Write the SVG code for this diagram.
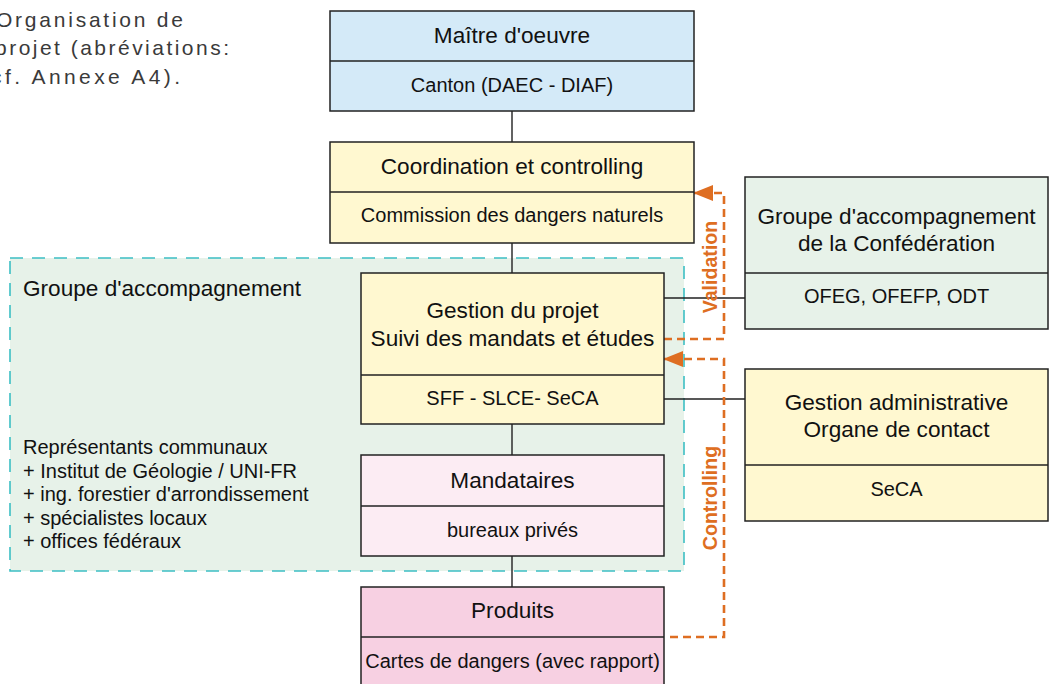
<svg xmlns="http://www.w3.org/2000/svg" width="1051" height="684" viewBox="0 0 1051 684">
<style>
.box{stroke:#222;stroke-width:1.5}
.t{font-family:"Liberation Sans",Arial,sans-serif;font-size:22.6px;fill:#111;text-anchor:middle}
.s{font-family:"Liberation Sans",Arial,sans-serif;font-size:20px;fill:#111;text-anchor:middle}
.l{font-family:"Liberation Sans",Arial,sans-serif;font-size:20px;fill:#111}
.cap{font-family:"Liberation Sans",Arial,sans-serif;font-size:21px;fill:#3a3a3a}
.conn{stroke:#222;stroke-width:1.4;fill:none}
.or{stroke:#DE6E22;stroke-width:2.6;fill:none;stroke-dasharray:8 5}
.ol{font-family:"Liberation Sans",Arial,sans-serif;font-size:19.6px;font-weight:bold;fill:#DE6E22;text-anchor:middle}
.blue{fill:#D4EAF8}.yel{fill:#FFF8D0}.grn{fill:#E7F2E9}.pk1{fill:#FCECF3}.pk2{fill:#F7D0E2}
</style>
<defs>
<marker id="ah" viewBox="0 0 20 16" refX="19" refY="8" markerWidth="20" markerHeight="16" markerUnits="userSpaceOnUse" orient="auto">
<path d="M0,0 L20,8 L0,16 z" fill="#DE6E22"/>
</marker>
</defs>
<rect width="1051" height="684" fill="#fff"/>
<g id="caption">
<text class="cap" x="-4" y="27" textLength="187" lengthAdjust="spacing">Organisation de</text>
<text class="cap" x="-5" y="55" textLength="234" lengthAdjust="spacing">projet (abréviations:</text>
<text class="cap" x="-9" y="84" textLength="189" lengthAdjust="spacing">cf. Annexe A4).</text>
</g>
<g id="groupe-accompagnement">
<rect x="10" y="258" width="674" height="313" fill="#E7F2E9" stroke="#3CBFC4" stroke-width="1.6" stroke-dasharray="13 9"/>
<text class="t" x="23" y="296" style="text-anchor:start">Groupe d'accompagnement</text>
<text class="l" x="23" y="454">Représentants communaux</text>
<text class="l" x="23" y="477.5">+ Institut de Géologie / UNI-FR</text>
<text class="l" x="23" y="501">+ ing. forestier d'arrondissement</text>
<text class="l" x="23" y="524.5">+ spécialistes locaux</text>
<text class="l" x="23" y="548">+ offices fédéraux</text>
</g>
<g id="connectors">
<path class="conn" d="M512,111V142M512,243V273M512,424V455M512,556V587M664,298H745M664,399H745"/>
<path class="or" d="M664,339H724V193H694" marker-end="url(#ah)"/>
<path class="or" d="M670,637H724V359H664" marker-end="url(#ah)"/>
<text class="ol" transform="translate(717,267) rotate(-90)">Validation</text>
<text class="ol" transform="translate(717,498) rotate(-90)">Controlling</text>
</g>
<g id="maitre">
<rect class="box blue" x="330" y="11" width="364" height="100"/>
<path class="conn" d="M330,61H694"/>
<text class="t" x="512" y="43">Maître d'oeuvre</text>
<text class="s" x="512" y="92">Canton (DAEC - DIAF)</text>
</g>
<g id="coordination">
<rect class="box yel" x="330" y="142" width="364" height="101"/>
<path class="conn" d="M330,192H694"/>
<text class="t" x="512" y="174">Coordination et controlling</text>
<text class="s" x="512" y="222">Commission des dangers naturels</text>
</g>
<g id="gestion-projet">
<rect class="box yel" x="361" y="273" width="303" height="151"/>
<path class="conn" d="M361,375H664"/>
<text class="t" x="512.5" y="318">Gestion du projet</text>
<text class="t" x="512.5" y="346">Suivi des mandats et études</text>
<text class="s" x="512.5" y="405">SFF - SLCE- SeCA</text>
</g>
<g id="mandataires">
<rect class="box pk1" x="361" y="455" width="303" height="101"/>
<path class="conn" d="M361,506H664"/>
<text class="t" x="512.5" y="488">Mandataires</text>
<text class="s" x="512.5" y="537">bureaux privés</text>
</g>
<g id="produits">
<rect class="box pk2" x="361" y="587" width="303" height="103"/>
<path class="conn" d="M361,637H664"/>
<text class="t" x="512.5" y="618">Produits</text>
<text class="s" x="512.5" y="668">Cartes de dangers (avec rapport)</text>
</g>
<g id="confederation">
<rect class="box grn" x="745" y="177" width="303" height="152"/>
<path class="conn" d="M745,273H1048"/>
<text class="t" x="896.5" y="224">Groupe d'accompagnement</text>
<text class="t" x="896.5" y="251">de la Confédération</text>
<text class="s" x="896.5" y="303">OFEG, OFEFP, ODT</text>
</g>
<g id="gestion-admin">
<rect class="box yel" x="745" y="369" width="303" height="152"/>
<path class="conn" d="M745,465H1048"/>
<text class="t" x="896.5" y="410">Gestion administrative</text>
<text class="t" x="896.5" y="437">Organe de contact</text>
<text class="s" x="896.5" y="496">SeCA</text>
</g>
</svg>
